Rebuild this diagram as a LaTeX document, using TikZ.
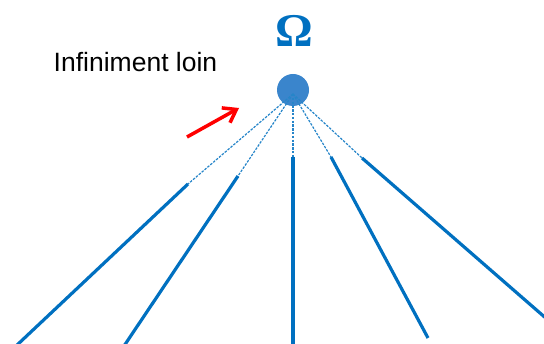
\documentclass[tikz,border=0pt]{standalone}
\usepackage{fontspec}
\setmainfont{Liberation Sans}
\newfontfamily\omegafont{Liberation Serif}
\usetikzlibrary{arrows.meta}
\definecolor{lineblue}{HTML}{0070C0}
\definecolor{ballblue}{HTML}{3A85CC}
\definecolor{arrred}{HTML}{FF0000}
\begin{document}
\begin{tikzpicture}[x=1pt,y=-1pt,
  ray/.style={draw=lineblue,line width=3.2pt},
  guide/.style={draw=lineblue!85,line width=1.2pt,dash pattern=on 2.5pt off 1.3pt},
  lbl/.style={inner sep=0pt}]
\useasboundingbox (0,0) rectangle (544,344);
\node[circle,fill=ballblue,minimum size=32pt,inner sep=0pt] (ball) at (293,90) {};
\coordinate (c) at (293,94);
\node[lbl,anchor=base,text=lineblue,font=\omegafont\fontsize{47}{47}\selectfont\bfseries] (omega) at (294.5,47) {Ω};
\node[lbl,anchor=base,font=\fontsize{26.5}{26.5}\selectfont] (txt) at (135.5,72) {Infiniment loin};
\coordinate (a1) at (188,184); \coordinate (b1) at (16,346);
\coordinate (a2) at (238,176); \coordinate (b2) at (124,346);
\coordinate (a3) at (293,157); \coordinate (b3) at (293,346);
\coordinate (a4) at (331,157); \coordinate (b4) at (428,338);
\coordinate (a5) at (362,158); \coordinate (b5) at (548,320);
\foreach \i in {1,...,5}{
  \draw[guide] (c) -- (a\i);
  \draw[ray] (a\i) -- (b\i);
}
\coordinate (r1) at (187,137);
\coordinate (r2) at (239,108);
\draw[draw=arrred,line width=3.5pt,-{Straight Barb[length=12pt,width=17pt]}] (r1) -- (r2);
\end{tikzpicture}
\end{document}
